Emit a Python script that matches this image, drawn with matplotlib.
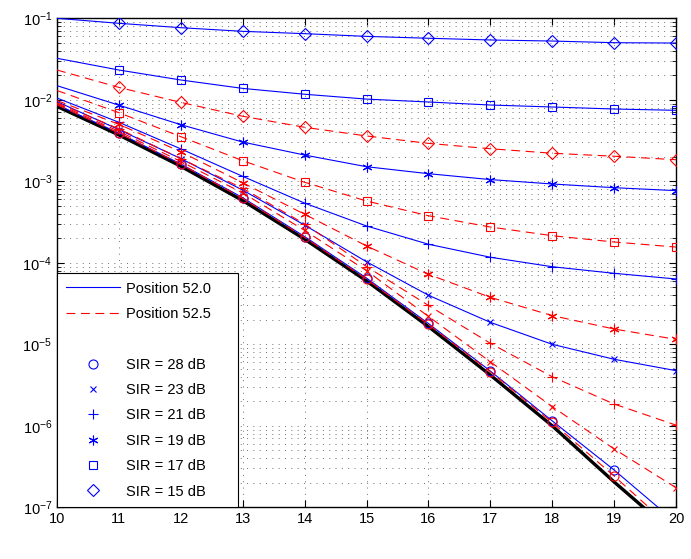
import numpy as np
import matplotlib
matplotlib.use("Agg")
import matplotlib.pyplot as plt
from matplotlib.lines import Line2D

plt.rcParams['font.family'] = ['Liberation Sans', 'DejaVu Sans']
plt.rcParams['mathtext.fontset'] = 'custom'
plt.rcParams['mathtext.rm'] = 'Liberation Sans'
plt.rcParams['mathtext.it'] = 'Liberation Sans:italic'

# x axis (dB) and BER values
snr = [10, 11, 12, 13, 14, 15, 16, 17, 18, 19, 20]
ber_ref = [8.3e-3, 3.7e-3, 1.53e-3, 5.8e-4, 1.95e-4, 6.0e-5, 1.65e-5, 4.2e-6, 1.0e-6, 2.05e-7, 4.5e-8]

sir_labels = ["SIR = 28 dB", "SIR = 23 dB", "SIR = 21 dB", "SIR = 19 dB", "SIR = 17 dB", "SIR = 15 dB"]

# Position 52.0 (blue, solid)
pos520 = [
    [8.7e-3, 3.9e-3, 1.63e-3, 6.3e-4, 2.1e-4, 6.5e-5, 1.8e-5, 4.7e-6, 1.15e-6, 2.87e-7, 6.5e-8],
    [9.5e-3, 4.3e-3, 1.9e-3, 7.8e-4, 2.9e-4, 1.03e-4, 4.0e-5, 1.86e-5, 1.0e-5, 6.55e-6, 4.75e-6],
    [1.05e-2, 5.3e-3, 2.5e-3, 1.15e-3, 5.4e-4, 2.83e-4, 1.69e-4, 1.17e-4, 8.95e-5, 7.43e-5, 6.33e-5],
    [1.49e-2, 8.6e-3, 4.95e-3, 3.03e-3, 2.1e-3, 1.51e-3, 1.24e-3, 1.05e-3, 9.27e-4, 8.35e-4, 7.68e-4],
    [3.23e-2, 2.32e-2, 1.75e-2, 1.38e-2, 1.17e-2, 1.02e-2, 9.4e-3, 8.63e-3, 8.16e-3, 7.71e-3, 7.43e-3],
    [1.0e-1, 8.68e-2, 7.67e-2, 6.92e-2, 6.48e-2, 6.0e-2, 5.69e-2, 5.42e-2, 5.26e-2, 5.02e-2, 4.97e-2],
]

# Position 52.5 (red, dashed)
pos525 = [
    [8.7e-3, 3.9e-3, 1.62e-3, 6.2e-4, 2.05e-4, 6.3e-5, 1.75e-5, 4.6e-6, 1.1e-6, 2.42e-7, 5.0e-8],
    [9.0e-3, 4.1e-3, 1.75e-3, 7.2e-4, 2.5e-4, 8.0e-5, 2.2e-5, 6.1e-6, 1.72e-6, 5.2e-7, 1.74e-7],
    [9.2e-3, 4.4e-3, 1.9e-3, 8.2e-4, 3.0e-4, 9.0e-5, 3.0e-5, 1.03e-5, 4.0e-6, 1.85e-6, 1.02e-6],
    [9.8e-3, 5.0e-3, 2.3e-3, 9.6e-4, 3.94e-4, 1.61e-4, 7.22e-5, 3.77e-5, 2.25e-5, 1.54e-5, 1.15e-5],
    [1.3e-2, 6.95e-3, 3.53e-3, 1.79e-3, 9.73e-4, 5.73e-4, 3.78e-4, 2.75e-4, 2.15e-4, 1.8e-4, 1.56e-4],
    [2.32e-2, 1.42e-2, 9.3e-3, 6.28e-3, 4.6e-3, 3.6e-3, 2.92e-3, 2.51e-3, 2.21e-3, 2.03e-3, 1.84e-3],
]

markers = ['o', 'x', '+', (6, 2, 0), 's', 'D']
msizes = [6.5, 5, 7, 7, 5.5, 6.5]
dash = (0, (8, 5))

fig = plt.figure(figsize=(6.91, 5.59), dpi=100)
ax = fig.add_axes([57 / 691, 1 - 507.3 / 559, (676 - 57) / 691, (507.3 - 18.3) / 559])

ax.semilogy(snr, ber_ref, color='black', lw=2.4, zorder=3)
for i in range(len(sir_labels)):
    ax.semilogy(snr, pos520[i], color='blue', lw=0.8, marker=markers[i], ms=msizes[i],
                mfc='none', mew=0.8, markevery=slice(1, None), zorder=4)
    ax.semilogy(snr, pos525[i], color='red', lw=0.8, ls=dash, marker=markers[i],
                ms=msizes[i], mfc='none', mew=0.8, markevery=slice(1, None), zorder=4)

ax.set_xlim(10, 20)
ax.set_ylim(1e-7, 1e-1)
ax.set_xticks(snr)
ax.tick_params(which='both', direction='in', top=True, right=True, labelsize=10.5)
ax.tick_params(which='major', length=5)
ax.tick_params(which='minor', length=3)
ax.grid(True, which='major', ls=(0, (1, 5.5)), color='#707070', lw=0.7)
ax.grid(True, which='minor', axis='y', ls=(0, (1, 5.5)), color='#707070', lw=0.7)
for s in ax.spines.values():
    s.set_linewidth(1.0)

handles = [
    Line2D([], [], color='blue', lw=0.8),
    Line2D([], [], color='red', lw=0.8, ls=dash),
    Line2D([], [], color='none'),
]
labels = ["Position 52.0", "Position 52.5", " "]
for i, lab in enumerate(sir_labels):
    handles.append(Line2D([], [], color='blue', ls='none', marker=markers[i], ms=msizes[i],
                          mfc='none', mew=0.8))
    labels.append(lab)

leg = ax.legend(handles, labels, loc='lower left', bbox_to_anchor=(0, 0, (238 - 57) / 619, 0.4),
                mode='expand', borderaxespad=0, fancybox=False,
                edgecolor='black', framealpha=1, fontsize=10.5, handlelength=3.7,
                handletextpad=0.4, labelspacing=0.78, borderpad=0.6)
leg.get_frame().set_linewidth(0.8)
leg.set_zorder(10)

fig.savefig("out.png", dpi=100)
